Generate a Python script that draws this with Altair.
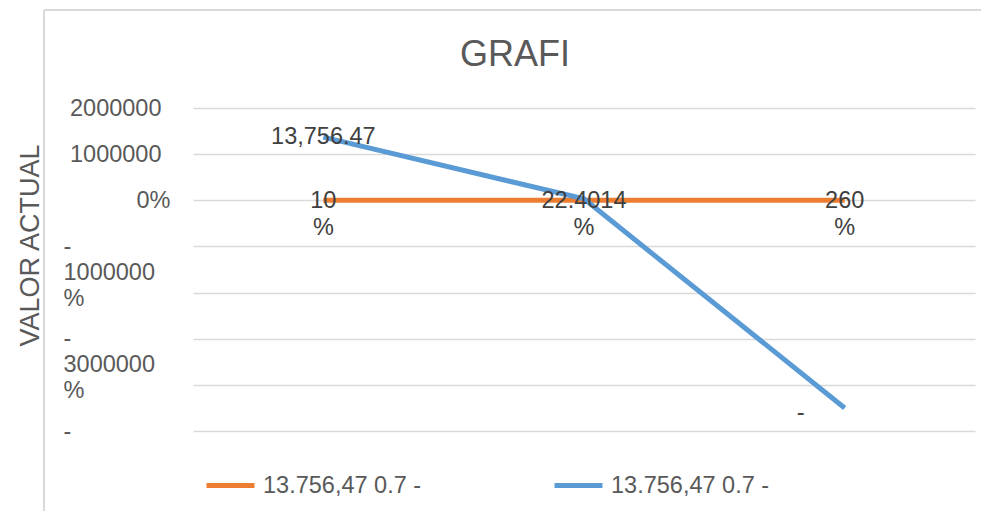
import altair as alt
import pandas as pd

# ---- data ----
categories = ["1", "2", "3"]
series_names = ["13.756,47 0.7 -", "13.756,47 0.7 - "]
orange_values = [0, 0, 0]
orange_labels = ["10\n%", "22.4014\n%", "260\n%"]
blue_values = [1370000, 30000, -4500000]
blue_labels = ["13,756.47", "", "-"]

y_tick_values = [2000000, 1000000, 0, -1000000, -2000000, -3000000, -4000000, -5000000]
y_tick_labels = ["2000000", "1000000", "0%", "-\n1000000\n%", "", "-\n3000000\n%", "", "-"]

ORANGE = "#ED7D31"
BLUE = "#5B9BD5"
GREY = "#595959"
DARK = "#404040"
FONT = "Liberation Sans"

rows = []
for c, v, l in zip(categories, orange_values, orange_labels):
    rows.append({"cat": c, "value": v, "label": l, "series": series_names[0]})
for c, v, l in zip(categories, blue_values, blue_labels):
    rows.append({"cat": c, "value": v, "label": l, "series": series_names[1]})
df = pd.DataFrame(rows)

# label expression built from the tick arrays
expr = "''"
for v, l in reversed(list(zip(y_tick_values, y_tick_labels))):
    parts = "[" + ",".join("'" + p + "'" for p in l.split("\n")) + "]"
    expr = f"datum.value == {v} ? {parts} : ({expr})"

W, H = 782, 323

x_enc = alt.X("cat:N", sort=categories, axis=None,
              scale=alt.Scale(paddingOuter=0.5, paddingInner=1))
y_scale = alt.Scale(domain=[-5000000, 2000000], nice=False, zero=False)

y_axis = alt.Axis(
    values=y_tick_values,
    labelExpr=expr,
    title="VALOR ACTUAL",
    titleFont=FONT, titleFontSize=27, titleFontWeight="normal", titleColor=GREY,
    titleX=-163, titleY=137, titleAlign="center", titleBaseline="middle", titleAngle=270,
    labelFont=FONT, labelFontSize=23.5, labelColor=GREY, labelLineHeight=26,
    labelAlign={"condition": {"test": "datum.value < 0", "value": "left"}, "value": "right"},
    labelPadding={"condition": [{"test": "datum.value < 0", "value": 130},
                                {"test": "datum.value == 0", "value": 23}], "value": 32},
    labelBaseline="middle",
    labelOverlap=False,
    labelBound=False,
    grid=True, gridColor="#D9D9D9", gridWidth=1.5,
    domain=False, ticks=False,
)

color_enc = alt.Color(
    "series:N",
    scale=alt.Scale(domain=series_names, range=[ORANGE, BLUE]),
    legend=alt.Legend(
        title=None, orient="none", direction="horizontal", columns=2,
        legendX=11, legendY=351,
        symbolType="stroke", symbolSize=2300, symbolStrokeWidth=5,
        labelFont=FONT, labelFontSize=23.5, labelColor=GREY, labelOffset=6,
        columnPadding=122, padding=0,
    ),
)

base = alt.Chart(df)

lines = base.mark_line(strokeWidth=5).encode(
    x=x_enc,
    y=alt.Y("value:Q", scale=y_scale, axis=y_axis),
    color=color_enc,
)

orange_text = base.transform_filter(f"datum.series == '{series_names[0]}'").mark_text(
    font=FONT, fontSize=23.5, color=DARK, lineBreak="\n", lineHeight=27,
    align="center", baseline="middle", dy=1,
).encode(x=x_enc, y=alt.Y("value:Q", scale=y_scale), text="label:N")

blue_text_a = base.transform_filter(
    f"datum.series == '{series_names[1]}' && datum.cat != '3'"
).mark_text(
    font=FONT, fontSize=23.5, color=DARK, align="center", baseline="middle", dy=0,
).encode(x=x_enc, y=alt.Y("value:Q", scale=y_scale), text="label:N")

blue_text_b = base.transform_filter(
    f"datum.series == '{series_names[1]}' && datum.cat == '3'"
).mark_text(
    font=FONT, fontSize=23.5, color=DARK, align="right", baseline="middle", dx=-40, dy=5,
).encode(x=x_enc, y=alt.Y("value:Q", scale=y_scale), text="label:N")

# frame of the chart area
frame_top = alt.Chart(pd.DataFrame({"a": [0]})).mark_rule(color="#D9D9D9", strokeWidth=2).encode(
    x=alt.value(-149), x2=alt.value(820), y=alt.value(-98)
)
frame_left = alt.Chart(pd.DataFrame({"a": [0]})).mark_rule(color="#D9D9D9", strokeWidth=2).encode(
    x=alt.value(-149), y=alt.value(-98), y2=alt.value(420)
)

chart = alt.layer(frame_top, frame_left, lines, orange_text, blue_text_a, blue_text_b).properties(
    width=W, height=H,
    title=alt.TitleParams("GRAFI", font=FONT, fontSize=36, fontWeight="normal", color=GREY,
                          anchor="middle", dx=-69, offset=0, dy=65),
    autosize=alt.AutoSizeParams(type="none"),
    padding={"left": 185, "top": 100, "right": 6, "bottom": 80},
    background="white",
).configure_view(stroke=None)

chart.save("out.html", embed_options={"renderer": "svg", "actions": False})
